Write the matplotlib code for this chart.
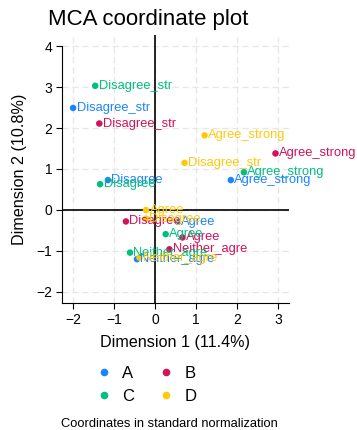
import numpy as np
import matplotlib
matplotlib.use('Agg')
import matplotlib.pyplot as plt
from matplotlib.lines import Line2D

plt.rcParams['font.family'] = ['Liberation Sans', 'DejaVu Sans']

# category coordinates per variable (dim1, dim2)
labels_A = ['Disagree_str', 'Disagree', 'Neither_agre', 'Agree', 'Agree_strong']
dim1_A = [-2.00, -1.15, -0.44, 0.56, 1.85]
dim2_A = [2.49, 0.73, -1.20, -0.29, 0.73]

labels_B = ['Disagree_str', 'Disagree', 'Neither_agre', 'Agree', 'Agree_strong']
dim1_B = [-1.36, -0.71, 0.35, 0.67, 2.94]
dim2_B = [2.11, -0.28, -0.96, -0.67, 1.38]

labels_C = ['Disagree_str', 'Disagree', 'Neither_agre', 'Agree', 'Agree_strong']
dim1_C = [-1.46, -1.34, -0.61, 0.26, 2.17]
dim2_C = [3.03, 0.63, -1.04, -0.59, 0.92]

labels_D = ['Disagree_str', 'Disagree', 'Neither_agre', 'Agree', 'Agree_strong']
dim1_D = [0.72, -0.22, -0.38, -0.22, 1.21]
dim2_D = [1.15, -0.21, -1.16, 0.00, 1.82]

series = [('A', labels_A, dim1_A, dim2_A, '#1a85ff'),
          ('B', labels_B, dim1_B, dim2_B, '#d41159'),
          ('C', labels_C, dim1_C, dim2_C, '#00bf7f'),
          ('D', labels_D, dim1_D, dim2_D, '#ffc90a')]

fig = plt.figure(figsize=(3.57, 4.30), dpi=100)
ax = fig.add_axes([62/357, 1-303/430, 227/357, 268/430])

ax.set_xlim(-2.27, 3.27)
ax.set_ylim(-2.27, 4.27)
ax.set_xticks([-2, -1, 0, 1, 2, 3])
ax.set_yticks([-2, -1, 0, 1, 2, 3, 4])
ax.grid(True, color='#e6e6e6', linestyle=(0, (5, 3)), linewidth=0.9)
ax.set_axisbelow(True)
for s in ['top', 'right']:
    ax.spines[s].set_visible(False)
ax.spines['left'].set_bounds(-2.27, 4.0)
ax.tick_params(labelsize=10, length=4, width=0.8, direction='out', pad=3)

ax.axhline(0, color='black', lw=1.2, zorder=1)
ax.axvline(0, color='black', lw=1.2, zorder=1)

handles = {}
for name, labs, x, y, col in series:
    ax.scatter(x, y, s=22, color=col, zorder=3, edgecolors='none')
    for lab, xi, yi in zip(labs, x, y):
        ax.annotate(lab, (xi, yi), xytext=(2.5, 0), textcoords='offset points',
                    color=col, fontsize=9.3, va='center', ha='left', zorder=4,
                    annotation_clip=False)
    handles[name] = Line2D([], [], marker='o', ls='none', color=col,
                           markersize=4.5, label=name)

ax.set_xlabel('Dimension 1 (11.4%)', fontsize=11.6, labelpad=6)
ax.set_ylabel('Dimension 2 (10.8%)', fontsize=11.6, labelpad=7)

fig.text(48/357, 1-19/430, 'MCA coordinate plot', fontsize=16, ha='left', va='center')

# column-major fill: A, C in first column; B, D in second
fig.legend(handles=[handles['A'], handles['C'], handles['B'], handles['D']], ncol=2,
           loc='center', bbox_to_anchor=(145/357, 1-385/430), frameon=False,
           fontsize=12, handletextpad=0.5, columnspacing=1.3,
           labelspacing=0.5, handlelength=1.2)

fig.text(169/357, 1-424/430, 'Coordinates in standard normalization',
         fontsize=9.3, ha='center', va='center')

plt.savefig('out.png', dpi=100)
